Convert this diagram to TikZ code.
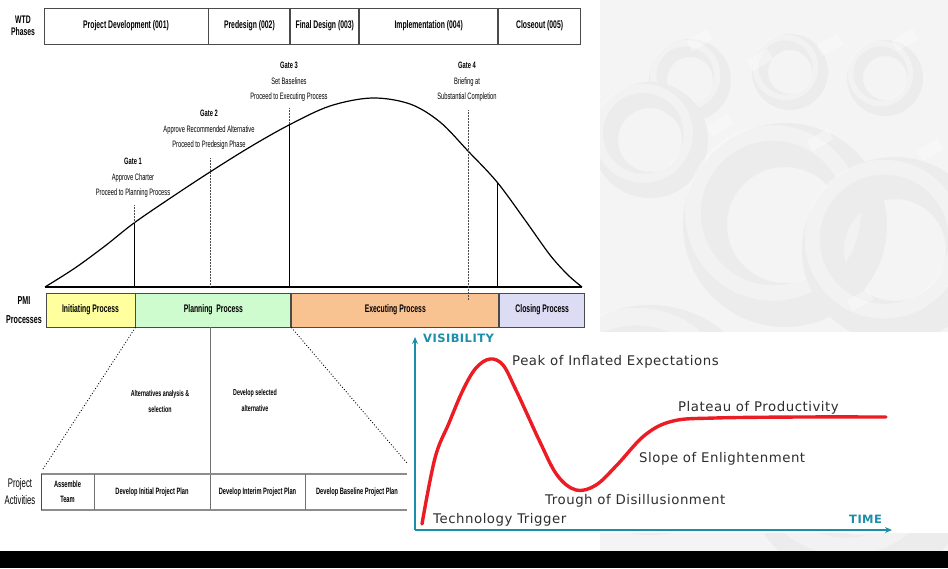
\documentclass[tikz,border=0pt]{standalone}
\usepackage{fontspec}
\setmainfont{Liberation Sans}
\newfontfamily\cond[FakeStretch=0.62]{Liberation Sans}
\newfontfamily\hypefont[LetterSpace=4]{DejaVu Sans}
\usetikzlibrary{arrows.meta}

\definecolor{framegray}{HTML}{4A4A4A}
\definecolor{softgray}{HTML}{8C8C8C}
\definecolor{initfill}{HTML}{FFFF9E}
\definecolor{planfill}{HTML}{CFFCCF}
\definecolor{execfill}{HTML}{F9C291}
\definecolor{closefill}{HTML}{DCDCF4}
\definecolor{axisteal}{HTML}{1B8FAA}
\definecolor{hypered}{HTML}{EC1C24}
\definecolor{hypetext}{HTML}{2E2E2E}
\definecolor{backdrop}{HTML}{F4F4F4}
\definecolor{gearshade}{HTML}{ECECEC}

\tikzset{
  phasebox/.style={draw=framegray, line width=0.9pt, inner sep=0pt, minimum height=36,
    font=\cond\bfseries\fontsize{11}{12}\selectfont},
  procbox/.style={draw=framegray, line width=0.9pt, inner sep=0pt, minimum height=34,
    font=\cond\bfseries\fontsize{11}{12}\selectfont},
  sidelabel/.style={align=center, inner sep=0pt, font=\cond\bfseries\fontsize{11}{12.5}\selectfont},
  gatetext/.style={align=center, inner sep=0pt, font=\cond\fontsize{9.3}{15.5}\selectfont},
  acttext/.style={align=center, inner sep=0pt, font=\cond\bfseries\fontsize{9.2}{15}\selectfont},
  notetext/.style={align=center, inner sep=0pt, font=\cond\bfseries\fontsize{8.6}{16}\selectfont},
  hypelabel/.style={anchor=west, inner sep=0pt, text=hypetext, font=\hypefont\fontsize{13.3}{15}\selectfont},
  axislabel/.style={anchor=west, inner sep=0pt, text=axisteal, font=\hypefont\bfseries\fontsize{11.5}{13}\selectfont},
  gateline/.style={black, line width=0.5pt},
  gatedots/.style={black!70, line width=0.5pt, densely dotted},
  zoomdots/.style={black, line width=0.9pt, dotted},
  teal axis/.style={axisteal, line width=1.6pt, -{Stealth[length=7pt,width=6pt]}},
}

\begin{document}
\begin{tikzpicture}[x=1pt,y=-1pt]
\useasboundingbox (0,0) rectangle (948,568);
\fill[white] (0,0) rectangle (948,568);

% faint gear backdrop on the right
\begin{scope}
  \clip (600,0) rectangle (948,552);
  \fill[backdrop] (600,0) rectangle (948,552);
  \foreach \cx/\cy/\r/\w in {690/80/32/18, 790/72/30/16, 885/78/30/16, 650/140/45/26,
                              785/225/80/44, 895/250/72/42, 650/420/90/50, 860/470/90/50}{
    \draw[gearshade, line width=\w pt] (\cx,\cy) circle (\r);
    \draw[white, opacity=0.35, line width=0.35*\w pt] (\cx-0.15*\r,\cy-0.15*\r) circle (\r);
  }
  \foreach \bx/\by in {700/40, 760/60, 830/45, 905/40, 720/125, 820/140, 930/150, 860/300}{
    \fill[white, opacity=0.35, rotate around={30:(\bx,\by)}] (\bx-12,\by-6) rectangle (\bx+12,\by+6);
  }
\end{scope}

% WTD phase row
\node[sidelabel] (wtd) at (23,26) {WTD\\Phases};
\node[phasebox, minimum width=164] (ph1) at (126,26) {Project Development (001)};
\node[phasebox, minimum width=81, anchor=west] (ph2) at (ph1.east) {Predesign (002)};
\node[phasebox, minimum width=68, anchor=west] (ph3) at (ph2.east) {Final Design (003)};
\node[phasebox, minimum width=138, anchor=west] (ph4) at (ph3.east) {Implementation (004)};
\node[phasebox, minimum width=82, anchor=west] (ph5) at (ph4.east) {Closeout (005)};

% life-cycle curve
\coordinate (base0) at (45,287);
\coordinate (base1) at (582,287);
\draw[black, line width=1.2pt, line join=round]
  plot[smooth, tension=0.55] coordinates {(45,287) (75,268) (105,246) (134,223) (172,197)
    (210,172) (250,147) (289,125) (330,106) (372,98) (410,104) (440,122) (468,151)
    (497,182) (525,220) (550,255) (568,275) (582,287)};
\draw[black, line width=2.6pt] (base0) -- (base1);

% gate markers
\coordinate (g1top) at (134,205); \coordinate (g1c) at (134,223); \coordinate (g1b) at (134,287);
\coordinate (g2top) at (210,158); \coordinate (g2b) at (210,287);
\coordinate (g3top) at (289,108); \coordinate (g3c) at (289,125); \coordinate (g3b) at (289,287);
\coordinate (g4top) at (468,110); \coordinate (g4b) at (468,300);
\coordinate (g5c) at (497,182); \coordinate (g5b) at (497,287);
\draw[gatedots] (g1top) -- (g1c);
\draw[gateline] (g1c) -- (g1b);
\draw[gatedots] (g2top) -- (g2b);
\draw[gatedots] (g3top) -- (g3c);
\draw[gateline] (g3c) -- (g3b);
\draw[gateline] (g5c) -- (g5b);

\node[gatetext] (gate1) at (133,178) {\bfseries Gate 1\\Approve Charter\\Proceed to Planning Process};
\node[gatetext] (gate2) at (209,130) {\bfseries Gate 2\\Approve Recommended Alternative\\Proceed to Predesign Phase};
\node[gatetext] (gate3) at (289,82) {\bfseries Gate 3\\Set Baselines\\Proceed to Executing Process};
\node[gatetext] (gate4) at (467,82) {\bfseries Gate 4\\Briefing at\\Substantial Completion};

% PMI process row
\node[sidelabel, font=\cond\bfseries\fontsize{11.5}{19}\selectfont] (pmi) at (24,310) {PMI\\Processes};
\node[procbox, fill=initfill, minimum width=89] (pr1) at (90.5,310) {Initiating Process};
\node[procbox, fill=planfill, minimum width=155, anchor=west] (pr2) at (pr1.east) {Planning\ \ Process};
\node[procbox, fill=execfill, minimum width=207, anchor=west] (pr3) at (pr2.east) {Executing Process};
\node[procbox, fill=closefill, minimum width=85, anchor=west] (pr4) at (pr3.east) {Closing Process};
\draw[gatedots] (g4top) -- (g4b);

% planning detail
\coordinate (zl0) at (pr1.south east);
\coordinate (zl1) at (43,469);
\coordinate (zr0) at (pr2.south east);
\coordinate (zr1) at (407,463);
\draw[zoomdots] (zl0) -- (zl1);
\draw[zoomdots] (zr0) -- (zr1);
\coordinate (split0) at (210,327);
\coordinate (split1) at (210,510);
\draw[softgray!80!black, line width=0.7pt] (split0) -- (split1);

\node[notetext] (alt1) at (160,401) {Alternatives analysis \&\\selection};
\node[notetext] (alt2) at (255,400) {Develop selected\\alternative};

% project activities row
\node[sidelabel, font=\cond\fontsize{12.5}{17}\selectfont] (pact) at (20,492) {Project\\Activities};
\draw[softgray, line width=1.6pt] (41,474) -- (407,474);
\draw[softgray, line width=1.6pt] (41,510) -- (407,510);
\draw[framegray, line width=0.8pt] (41,474) -- (41,510);
\foreach \xx in {94,305}{ \draw[softgray!80!black, line width=0.7pt] (\xx,474) -- (\xx,510); }
\node[acttext] (a1) at (67.5,492) {Assemble\\Team};
\node[acttext] (a2) at (152,492) {Develop Initial Project Plan};
\node[acttext] (a3) at (257.5,492) {Develop Interim Project Plan};
\node[acttext] (a4) at (357,492) {Develop Baseline Project Plan};

% hype cycle panel
\fill[white] (408,332) rectangle (948,533);
\coordinate (origin) at (415,530);
\coordinate (ytip) at (415,337);
\coordinate (xtip) at (892,530);
\draw[teal axis] (origin) -- (ytip);
\draw[teal axis] (origin) -- (xtip);
\node[axislabel] (vis) at (423,338) {VISIBILITY};
\node[axislabel] (time) at (849,519) {TIME};
\draw[hypered, line width=3.4pt, line cap=round, line join=round]
  plot[smooth, tension=0.6] coordinates {(422,524) (435,458) (449,423) (463,390) (476,368)
    (490,359) (503,365) (515,388) (528,416) (540,442) (557,475) (576,490) (596,485)
    (617,465) (645,435) (673,421) (715,418) (800,417) (886,417)};
\node[hypelabel] (peak) at (512,362) {Peak of Inflated Expectations};
\node[hypelabel] (plat) at (678,408) {Plateau of Productivity};
\node[hypelabel] (slope) at (639,459) {Slope of Enlightenment};
\node[hypelabel] (trough) at (545,501) {Trough of Disillusionment};
\node[hypelabel] (trig) at (433,520) {Technology Trigger};

% bottom band
\fill[black] (0,551) rectangle (948,568);
\end{tikzpicture}
\end{document}
